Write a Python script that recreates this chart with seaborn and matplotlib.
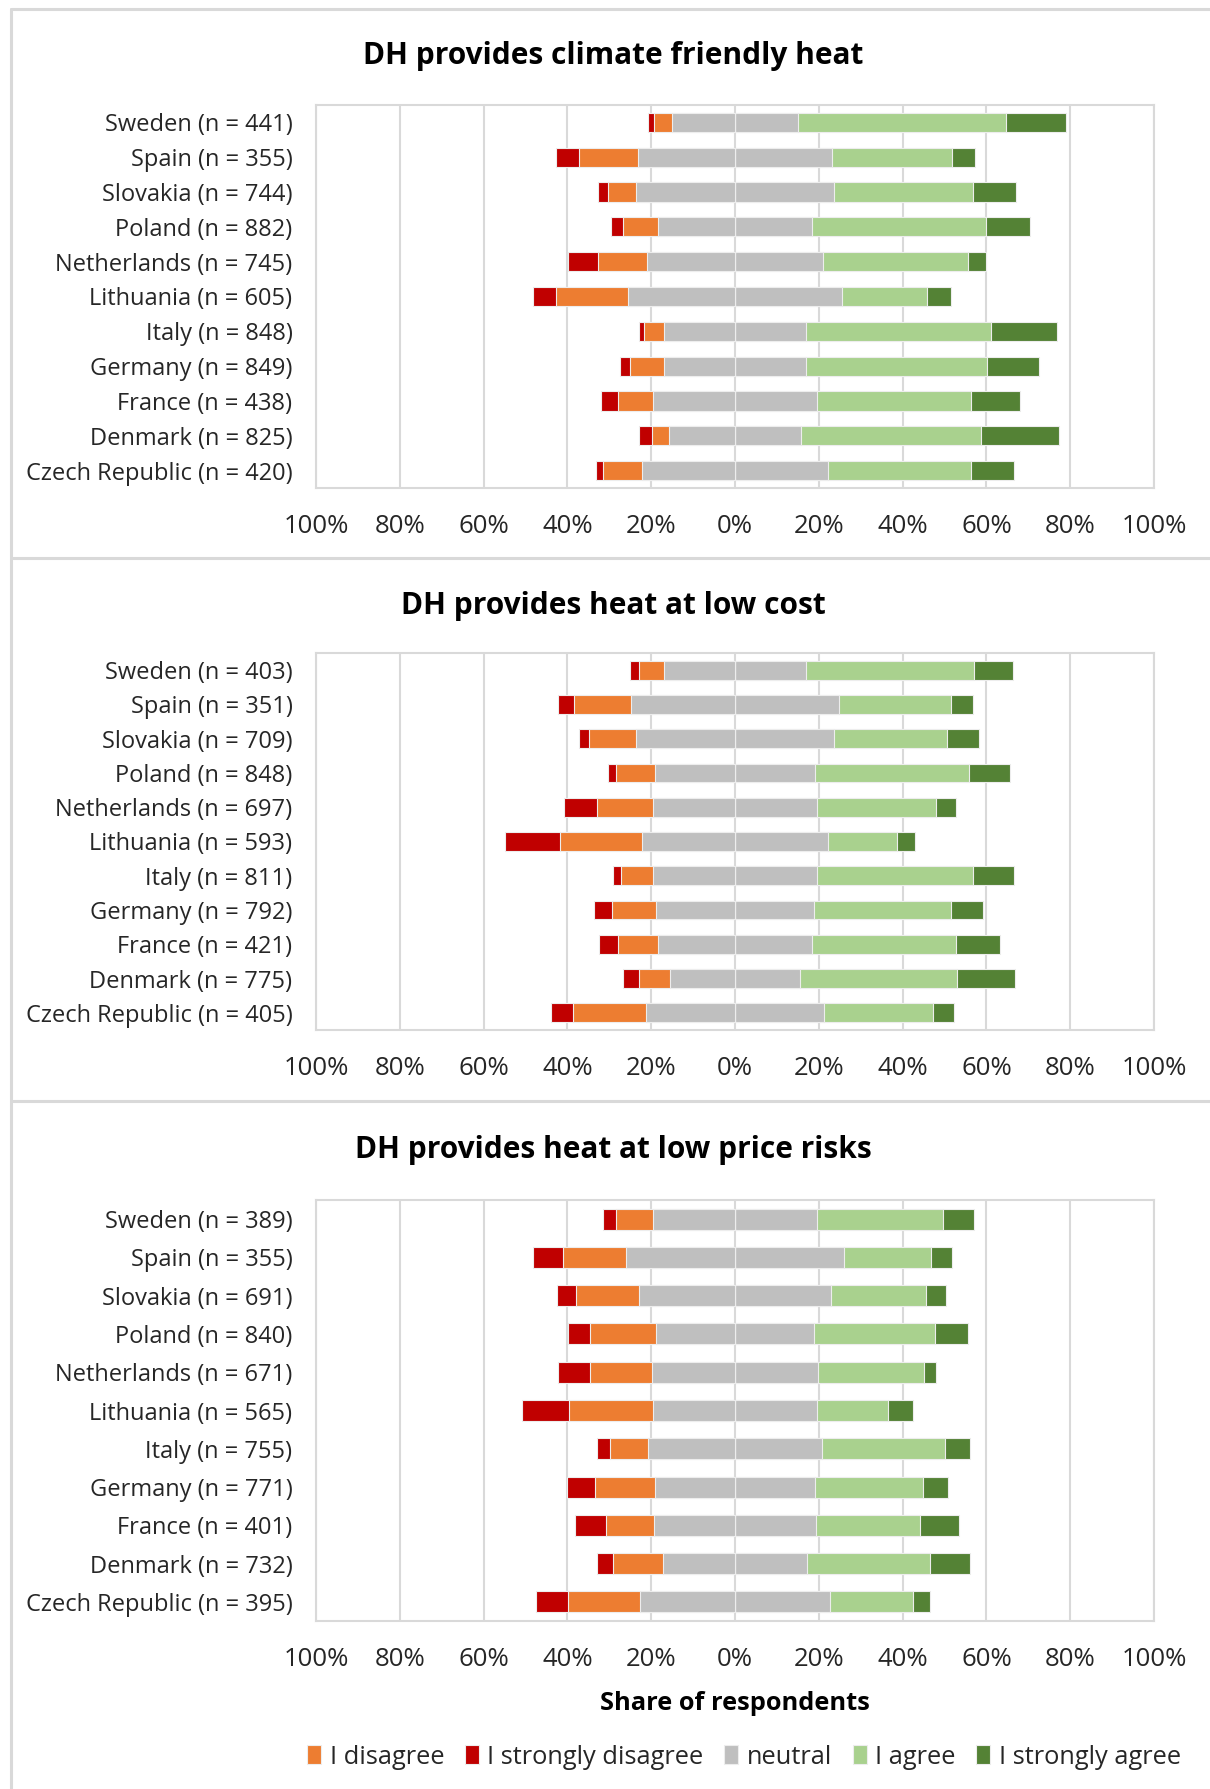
import matplotlib
matplotlib.use("Agg")
import matplotlib.pyplot as plt
from matplotlib.patches import Patch
from matplotlib.lines import Line2D
import numpy as np
import pandas as pd
import seaborn as sns

# ---- data -------------------------------------------------------------
countries = ["Sweden", "Spain", "Slovakia", "Poland", "Netherlands", "Lithuania",
             "Italy", "Germany", "France", "Denmark", "Czech Republic"]

titles = ["DH provides climate friendly heat",
          "DH provides heat at low cost",
          "DH provides heat at low price risks"]

n_climate = [441, 355, 744, 882, 745, 605, 848, 849, 438, 825, 420]
n_cost = [403, 351, 709, 848, 697, 593, 811, 792, 421, 775, 405]
n_risk = [389, 355, 691, 840, 671, 565, 755, 771, 401, 732, 395]

# shares in percent
climate_strongly_disagree = [1.4, 5.6, 2.4, 2.9, 7.3, 5.5, 1.2, 2.4, 3.9, 3.0, 1.7]
climate_disagree = [4.3, 13.9, 6.7, 8.2, 11.6, 17.3, 4.8, 8.0, 8.5, 4.1, 9.3]
climate_neutral = [30.1, 46.5, 47.3, 36.9, 42.1, 51.0, 34.0, 34.0, 39.0, 31.4, 44.2]
climate_agree = [49.7, 28.5, 33.2, 41.4, 34.6, 20.3, 44.0, 43.1, 36.9, 43.1, 34.3]
climate_strongly_agree = [14.3, 5.5, 10.3, 10.6, 4.3, 5.8, 15.8, 12.4, 11.6, 18.5, 10.3]

cost_strongly_disagree = [2.0, 3.9, 2.5, 2.1, 8.0, 13.1, 2.1, 4.3, 4.7, 3.9, 5.2]
cost_disagree = [6.0, 13.5, 11.1, 9.2, 13.4, 19.6, 7.6, 10.6, 9.4, 7.3, 17.4]
cost_neutral = [33.9, 49.7, 47.3, 38.2, 39.0, 44.2, 39.0, 37.7, 36.9, 31.2, 42.5]
cost_agree = [40.1, 26.8, 27.0, 36.8, 28.4, 16.5, 37.3, 32.7, 34.3, 37.4, 25.9]
cost_strongly_agree = [9.2, 5.1, 7.6, 9.7, 4.8, 4.3, 9.7, 7.6, 10.6, 13.9, 5.1]

risk_strongly_disagree = [2.9, 7.1, 4.6, 5.2, 7.5, 11.2, 3.0, 6.7, 7.3, 3.7, 7.7]
risk_disagree = [9.0, 15.2, 14.9, 15.6, 14.9, 20.1, 9.2, 14.4, 11.5, 11.9, 17.1]
risk_neutral = [39.0, 51.9, 46.0, 37.9, 39.6, 39.0, 41.4, 38.2, 38.6, 34.6, 45.4]
risk_agree = [30.1, 20.8, 22.5, 28.8, 25.2, 17.1, 29.4, 25.8, 24.8, 29.2, 19.7]
risk_strongly_agree = [7.5, 5.0, 4.8, 7.8, 3.0, 5.9, 6.0, 5.9, 9.4, 9.5, 4.2]

tick_values = [-100, -80, -60, -40, -20, 0, 20, 40, 60, 80, 100]
tick_labels = ["100%", "80%", "60%", "40%", "20%", "0%", "20%", "40%", "60%", "80%", "100%"]

legend_labels = ["I disagree", "I strongly disagree", "neutral", "I agree", "I strongly agree"]

# ---- style --------------------------------------------------------------
C_DIS = "#ED7D31"
C_SDIS = "#C00000"
C_NEU = "#BFBFBF"
C_AGR = "#A9D18E"
C_SAGR = "#548235"
GRID = "#D9D9D9"
EDGE = "#EDEDED"
TXT = "#262626"

sns.set_theme(style="white")
plt.rcParams["font.family"] = ["Open Sans", "DejaVu Sans"]

W, H = 1210, 1789
fig = plt.figure(figsize=(W / 100, H / 100), dpi=100)


def fx(px):
    return px / W


def fy(py):
    return 1 - py / H


panels = [
    dict(title=titles[0], n=n_climate, sd=climate_strongly_disagree, d=climate_disagree,
         ne=climate_neutral, a=climate_agree, sa=climate_strongly_agree,
         title_y=56, top=105, bottom=488),
    dict(title=titles[1], n=n_cost, sd=cost_strongly_disagree, d=cost_disagree,
         ne=cost_neutral, a=cost_agree, sa=cost_strongly_agree,
         title_y=606, top=653, bottom=1030),
    dict(title=titles[2], n=n_risk, sd=risk_strongly_disagree, d=risk_disagree,
         ne=risk_neutral, a=risk_agree, sa=risk_strongly_agree,
         title_y=1150, top=1200, bottom=1621),
]

PLOT_L, PLOT_R = 316, 1154
BAR_W = 0.55

for p in panels:
    ax = fig.add_axes([fx(PLOT_L), fy(p["bottom"]), fx(PLOT_R - PLOT_L),
                       (p["bottom"] - p["top"]) / H])
    labels = [f"{c} (n = {n})" for c, n in zip(countries, p["n"])]
    half = np.array(p["ne"]) / 2
    df = pd.DataFrame({
        "label": labels,
        "right_sa": half + np.array(p["a"]) + np.array(p["sa"]),
        "right_a": half + np.array(p["a"]),
        "right_n": half,
        "left_sd": -(half + np.array(p["d"]) + np.array(p["sd"])),
        "left_d": -(half + np.array(p["d"])),
        "left_n": -half,
    })
    # outermost segments first, inner segments painted over them
    for col, color in [("right_sa", C_SAGR), ("right_a", C_AGR), ("right_n", C_NEU),
                       ("left_sd", C_SDIS), ("left_d", C_DIS), ("left_n", C_NEU)]:
        sns.barplot(data=df, x=col, y="label", orient="h", order=labels,
                    color=color, saturation=1, width=BAR_W, errorbar=None,
                    linewidth=0.8, edgecolor=EDGE, ax=ax)

    ax.set_xlim(-100, 100)
    ax.set_ylim(len(labels) - 0.5, -0.5)
    ax.set_xticks(tick_values)
    ax.set_xticklabels(tick_labels)
    ax.set_xlabel("")
    ax.set_ylabel("")
    ax.grid(axis="x", color=GRID, linewidth=1.5)
    ax.grid(axis="y", visible=False)
    ax.set_axisbelow(True)
    for s in ax.spines.values():
        s.set_visible(True)
        s.set_color(GRID)
        s.set_linewidth(1.5)
    ax.tick_params(axis="y", length=0, pad=17, labelsize=17, labelcolor=TXT)
    ax.tick_params(axis="x", length=0, pad=19, labelsize=18.5, labelcolor=TXT)

    fig.text(fx(613), fy(p["title_y"]), p["title"], ha="center", va="center",
             fontsize=21.5, fontweight="bold", color="black")

fig.text(fx(735), fy(1704), "Share of respondents", ha="center", va="center",
         fontsize=18.3, fontweight="bold", color="black")

handles = [Patch(facecolor=c, edgecolor=EDGE, linewidth=0.8)
           for c in [C_DIS, C_SDIS, C_NEU, C_AGR, C_SAGR]]
fig.legend(handles, legend_labels, loc="center", bbox_to_anchor=(fx(744), fy(1757)),
           ncol=5, frameon=False, fontsize=18.3, handlelength=0.55, handleheight=0.8,
           handletextpad=0.35, columnspacing=0.8, labelcolor=TXT)

# chart frames: outer border and the separators between the three charts
for (x0, y0, x1, y1) in [(11, 9, W, 9), (11, 9, 11, H), (11, 558, W, 558), (11, 1101, W, 1101)]:
    fig.add_artist(Line2D([fx(x0), fx(x1)], [fy(y0), fy(y1)], color=GRID, linewidth=2.2,
                          transform=fig.transFigure))

fig.savefig("out.png", dpi=100, facecolor="white")
